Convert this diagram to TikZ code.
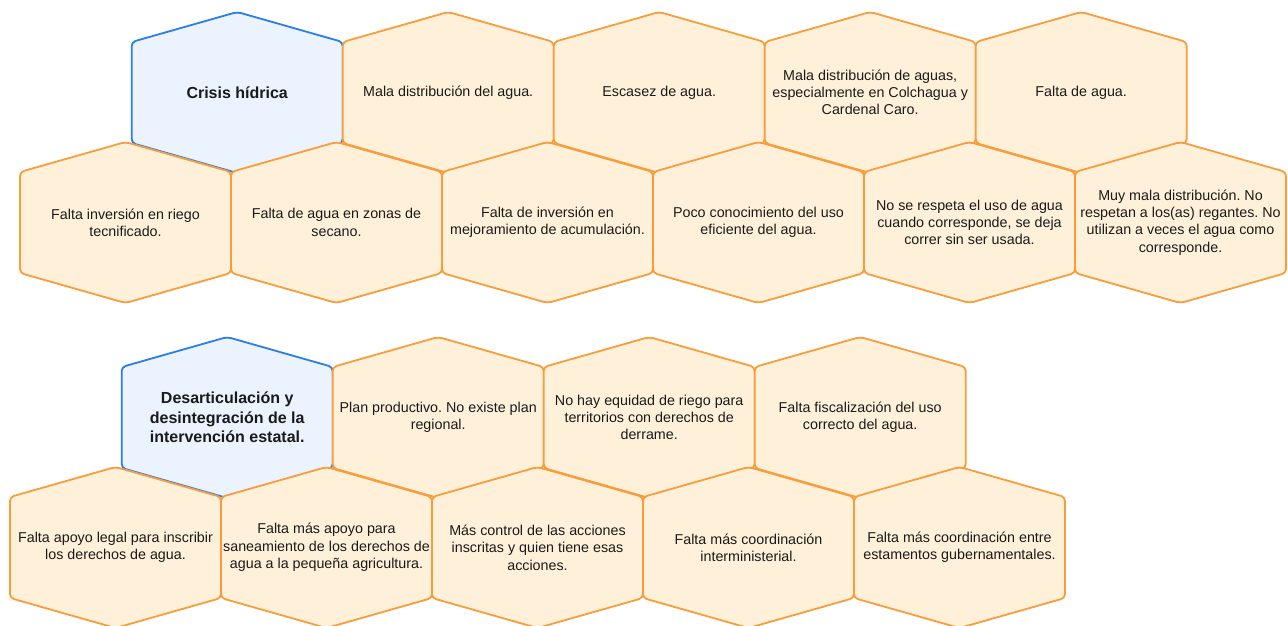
\documentclass[tikz,border=0pt]{standalone}
\usepackage{fontspec}
\setmainfont{Liberation Sans}
\frenchspacing
\definecolor{orgline}{HTML}{F99D3C}
\definecolor{orgfill}{HTML}{FFF1D9}
\definecolor{blueline}{HTML}{2B7DE9}
\definecolor{bluefill}{HTML}{EAF3FE}
\definecolor{txt}{HTML}{1A1A1A}
\newcommand{\hexcell}[6][]{%
  \path[hexbase,#5] (#3+105.5,#4) -- (#3+211,#4+30) -- (#3+211,#4+131) -- (#3+105.5,#4+161) -- (#3,#4+131) -- (#3,#4+30) -- cycle;
  \node[hextext,#1] (#2) at (#3+105.5,#4+80.5) {#6};
}
\begin{document}
\begin{tikzpicture}[x=1pt,y=-1pt,
  hexbase/.style={line width=1.8pt,rounded corners=4pt,line join=round},
  orangehex/.style={draw=orgline,fill=orgfill},
  bluehex/.style={draw=blueline,fill=bluefill},
  hextext/.style={align=center,inner sep=0pt,text=txt,font=\fontsize{14.3}{17.3}\selectfont},
  titletext/.style={font=\fontsize{16}{19.3}\selectfont\bfseries}]
\useasboundingbox (0,0) rectangle (1288,626);
% Row 1
\hexcell[titletext]{a1}{131.7}{12}{bluehex}{Crisis hídrica}
\hexcell{a2}{342.7}{12}{orangehex}{Mala distribución del agua.}
\hexcell{a3}{553.7}{12}{orangehex}{Escasez de agua.}
\hexcell{a4}{764.7}{12}{orangehex}{Mala distribución de aguas,\\especialmente en Colchagua y\\Cardenal Caro.}
\hexcell{a5}{975.7}{12}{orangehex}{Falta de agua.}
% Row 2
\hexcell{b1}{20}{142}{orangehex}{Falta inversión en riego\\tecnificado.}
\hexcell{b2}{231}{142}{orangehex}{Falta de agua en zonas de\\secano.}
\hexcell{b3}{442}{142}{orangehex}{Falta de inversión en\\mejoramiento de acumulación.}
\hexcell{b4}{653}{142}{orangehex}{Poco conocimiento del uso\\eficiente del agua.}
\hexcell{b5}{864}{142}{orangehex}{No se respeta el uso de agua\\cuando corresponde, se deja\\correr sin ser usada.}
\hexcell{b6}{1075}{142}{orangehex}{Muy mala distribución. No\\respetan a los(as) regantes. No\\utilizan a veces el agua como\\corresponde.}
% Row 3
\hexcell[titletext]{c1}{121.7}{337}{bluehex}{Desarticulación y\\desintegración de la\\intervención estatal.}
\hexcell{c2}{332.7}{337}{orangehex}{Plan productivo. No existe plan\\regional.}
\hexcell{c3}{543.7}{337}{orangehex}{No hay equidad de riego para\\territorios con derechos de\\derrame.}
\hexcell{c4}{754.7}{337}{orangehex}{Falta fiscalización del uso\\correcto del agua.}
% Row 4
\hexcell{d1}{10}{467}{orangehex}{Falta apoyo legal para inscribir\\los derechos de agua.}
\hexcell{d2}{221}{467}{orangehex}{Falta más apoyo para\\saneamiento de los derechos de\\agua a la pequeña agricultura.}
\hexcell{d3}{432}{467}{orangehex}{Más control de las acciones\\inscritas y quien tiene esas\\acciones.}
\hexcell{d4}{643}{467}{orangehex}{Falta más coordinación\\interministerial.}
\hexcell{d5}{854}{467}{orangehex}{Falta más coordinación entre\\estamentos gubernamentales.}
\end{tikzpicture}
\end{document}
